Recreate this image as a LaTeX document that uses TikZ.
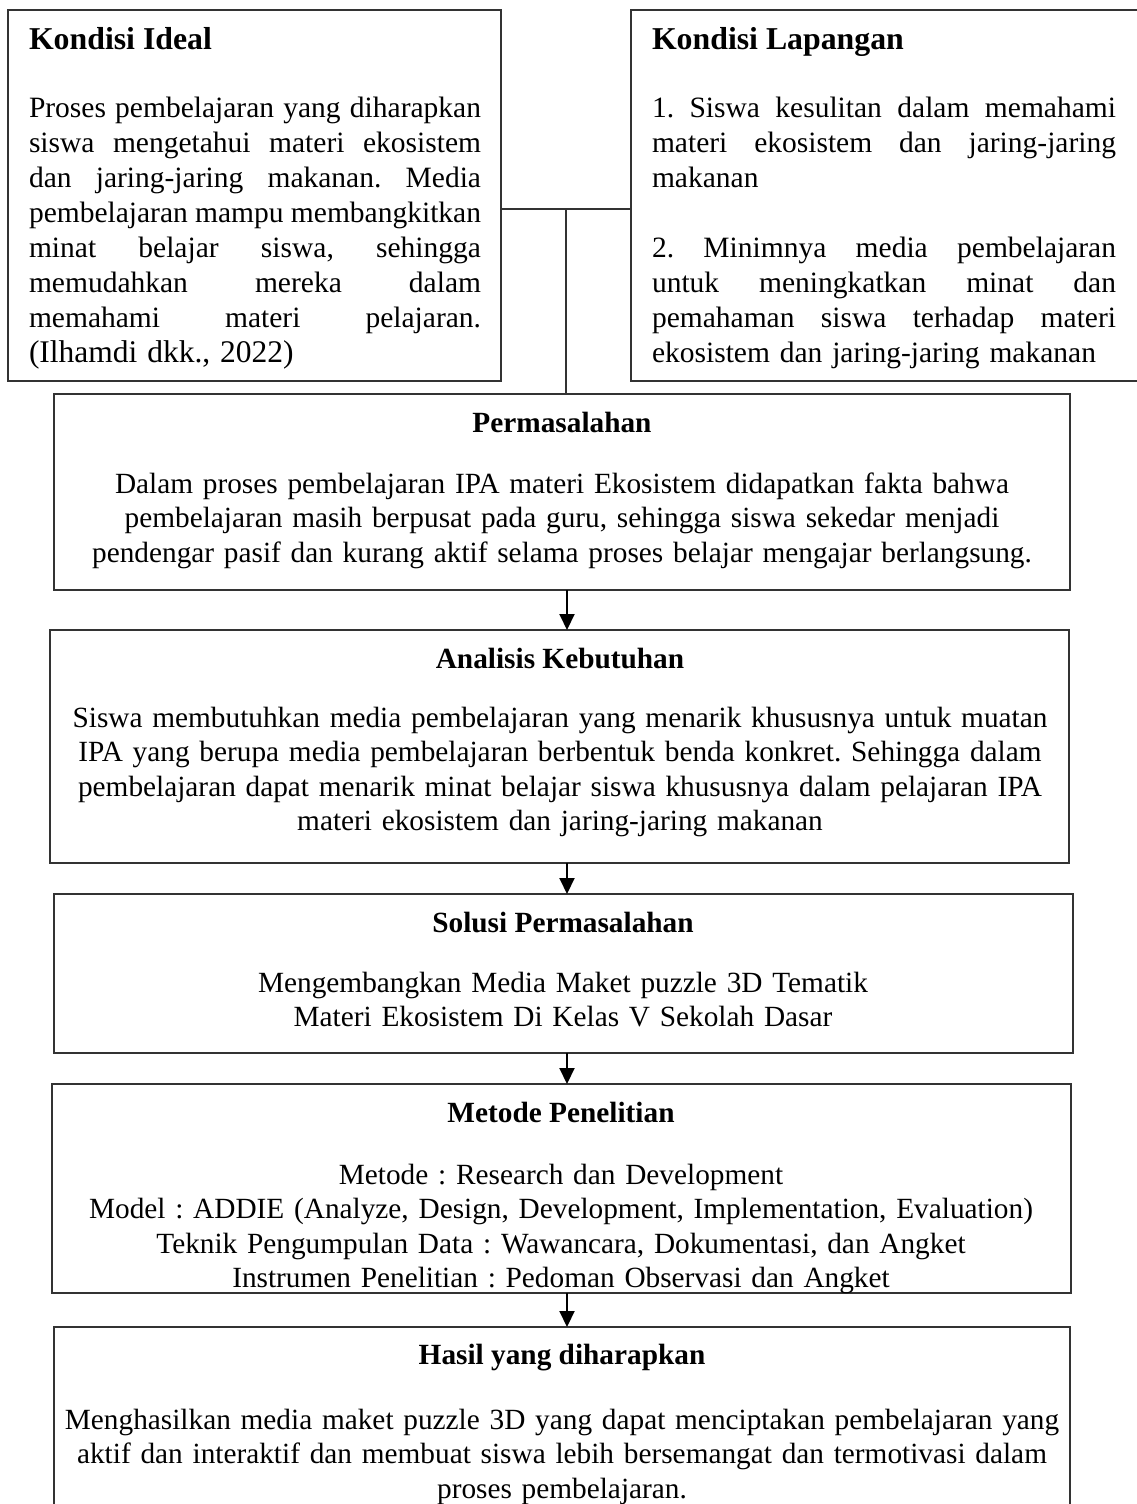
\documentclass[tikz,border=0pt]{standalone}
\usepackage{fontspec}
\setmainfont{Liberation Serif}
\usetikzlibrary{arrows.meta}
\newcommand\JLine[2]{\leavevmode\hbox to #1{\spaceskip=0.25em plus 4em minus 0.05em\relax\xspaceskip=\spaceskip #2}}
\frenchspacing
\begin{document}
\begin{tikzpicture}[x=1pt,y=-1pt,
  box/.style={draw=black!80, line width=1.3pt, anchor=north west, inner sep=0pt, outer sep=0pt},
  body/.style={font=\fontsize{29.3}{34.5}\selectfont\frenchspacing, inner sep=0pt, outer sep=0pt},
  topbody/.style={font=\fontsize{29.5}{35}\selectfont\frenchspacing, inner sep=0pt, outer sep=0pt},
  ttl/.style={font=\fontsize{29.3}{34.5}\selectfont\bfseries, inner sep=0pt, outer sep=0pt},
  topttl/.style={font=\fontsize{31.8}{36}\selectfont\bfseries, inner sep=0pt, outer sep=0pt},
  con/.style={draw=black!80, line width=1.3pt},
  arr/.style={draw=black, line width=2pt, -{Triangle[length=16pt,width=15pt]}}]
\useasboundingbox (0,0) rectangle (1137,1504);
\fill[white] (0,0) rectangle (1137,1504);

% boxes
\node[box, minimum width=493, minimum height=371] (ideal) at (8,10) {};
\node[box, minimum width=530, minimum height=371] (lap) at (631,10) {};
\node[box, minimum width=1016, minimum height=196] (masalah) at (54,394) {};
\node[box, minimum width=1019, minimum height=233] (anal) at (50,630) {};
\node[box, minimum width=1019, minimum height=159] (solusi) at (54,894) {};
\node[box, minimum width=1019, minimum height=209] (metode) at (52,1084) {};
\node[box, minimum width=1016, minimum height=200] (hasil) at (54,1327) {};

% Kondisi Ideal
\node[topttl, anchor=base west] (idealttl) at (29,49) {Kondisi Ideal};
\node[topbody, anchor=north west, text width=452pt, align=left] (idealtxt) at (29,93) {\strut\JLine{452pt}{Proses pembelajaran yang diharapkan}\\
\JLine{452pt}{siswa mengetahui materi ekosistem}\\
\JLine{452pt}{dan jaring-jaring makanan. Media}\\
\JLine{452pt}{pembelajaran mampu membangkitkan}\\
\JLine{452pt}{minat belajar siswa, sehingga}\\
\JLine{452pt}{memudahkan mereka dalam}\\
\JLine{452pt}{memahami materi pelajaran.}\\
{\fontsize{31.5}{35}\selectfont (Ilhamdi dkk., 2022)}};

% Kondisi Lapangan
\node[topttl, anchor=base west] (lapttl) at (652,49) {Kondisi Lapangan};
\node[topbody, anchor=north west, text width=464pt, align=left] (laptxt) at (652,93) {\strut\JLine{464pt}{1. Siswa kesulitan dalam memahami}\\
\JLine{464pt}{materi ekosistem dan jaring-jaring}\\
makanan\\
\strut\\
\JLine{464pt}{2. Minimnya media pembelajaran}\\
\JLine{464pt}{untuk meningkatkan minat dan}\\
\JLine{464pt}{pemahaman siswa terhadap materi}\\
ekosistem dan jaring-jaring makanan};

% Permasalahan
\node[ttl, anchor=base] (masttl) at (562,432) {Permasalahan};
\node[body, anchor=north, text width=1010pt, align=center] (mastxt) at (562,469) {\strut Dalam proses pembelajaran IPA materi Ekosistem didapatkan fakta bahwa\\
pembelajaran masih berpusat pada guru, sehingga siswa sekedar menjadi\\
pendengar pasif dan kurang aktif selama proses belajar mengajar berlangsung.};

% Analisis Kebutuhan
\node[ttl, anchor=base] (analttl) at (560,668) {Analisis Kebutuhan};
\node[body, anchor=north, text width=1010pt, align=center] (analtxt) at (560,703) {\strut Siswa membutuhkan media pembelajaran yang menarik khususnya untuk muatan\\
IPA yang berupa media pembelajaran berbentuk benda konkret. Sehingga dalam\\
pembelajaran dapat menarik minat belajar siswa khususnya dalam pelajaran IPA\\
materi ekosistem dan jaring-jaring makanan};

% Solusi Permasalahan
\node[ttl, anchor=base] (solttl) at (563,932) {Solusi Permasalahan};
\node[body, anchor=north, text width=1010pt, align=center] (soltxt) at (563,968) {\strut Mengembangkan Media Maket puzzle 3D Tematik\\
Materi Ekosistem Di Kelas V Sekolah Dasar};

% Metode Penelitian
\node[ttl, anchor=base] (metttl) at (561,1122) {Metode Penelitian};
\begin{scope}
\clip (metode.north west) rectangle (metode.south east);
\node[body, anchor=north, text width=1010pt, align=center] (mettxt) at (561,1160) {\strut Metode : Research dan Development\\
Model : ADDIE (Analyze, Design, Development, Implementation, Evaluation)\\
Teknik Pengumpulan Data : Wawancara, Dokumentasi, dan Angket\\
Instrumen Penelitian : Pedoman Observasi dan Angket};
\end{scope}

% Hasil
\node[ttl, anchor=base] (hasttl) at (562,1364) {Hasil yang diharapkan};
\node[body, anchor=north, text width=1010pt, align=center] (hastxt) at (562,1405) {\strut Menghasilkan media maket puzzle 3D yang dapat menciptakan pembelajaran yang\\
aktif dan interaktif dan membuat siswa lebih bersemangat dan termotivasi dalam\\
proses pembelajaran.};

% connectors
\coordinate (j) at (566,209);
\coordinate (ax) at (567,0);
\draw[con] (ideal.east |- j) -- (lap.west |- j);
\draw[con] (j) -- (j |- masalah.north);
\draw[arr] (ax |- masalah.south) -- (ax |- anal.north);
\draw[arr] (ax |- anal.south) -- (ax |- solusi.north);
\draw[arr] (ax |- solusi.south) -- (ax |- metode.north);
\draw[arr] (ax |- metode.south) -- (ax |- hasil.north);
\end{tikzpicture}
\end{document}
